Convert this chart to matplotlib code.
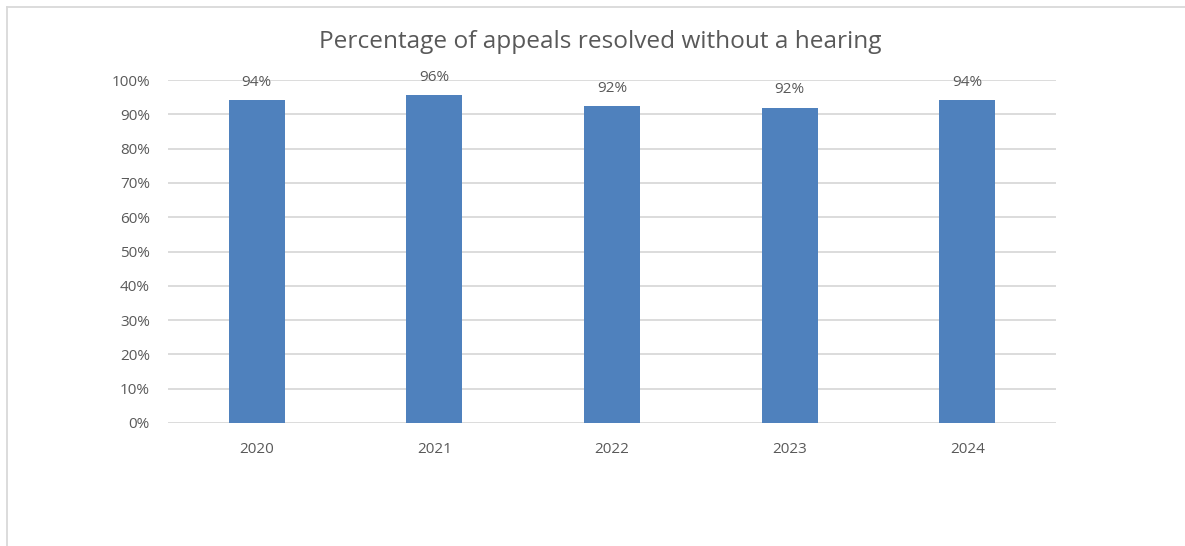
import matplotlib
matplotlib.use("Agg")
from matplotlib import pyplot as plt
from matplotlib.lines import Line2D
import numpy as np

years = ["2020", "2021", "2022", "2023", "2024"]
resolved = [0.942, 0.956, 0.923, 0.919, 0.942]
yticks = [0.0, 0.1, 0.2, 0.3, 0.4, 0.5, 0.6, 0.7, 0.8, 0.9, 1.0]

plt.rcParams['font.family'] = ['Open Sans', 'DejaVu Sans']
text_col = '#595959'

W, H = 1185, 546
fig = plt.figure(figsize=(W / 100, H / 100), dpi=100)
ax = fig.add_axes([168 / W, 1 - 423 / H, (1056 - 168) / W, (423 - 80) / H])

x = np.arange(len(years))
ax.bar(x, resolved, width=0.315, color='#4f81bd', zorder=3)
for xi, v in zip(x, resolved):
    ax.text(xi, v + 0.03, f"{round(v * 100)}%", ha='center', va='bottom',
            fontsize=11, color=text_col, zorder=4)

ax.set_xlim(-0.5, len(years) - 0.5)
ax.set_ylim(0, 1.0)
ax.set_yticks(yticks)
ax.set_yticklabels([f"{int(round(t * 100))}%" for t in yticks])
ax.set_xticks(x)
ax.set_xticklabels(years)
ax.tick_params(length=0, labelsize=11, labelcolor=text_col)
ax.tick_params(axis='y', pad=13)
ax.tick_params(axis='x', pad=14)
ax.grid(axis='y', color='#d9d9d9', linewidth=1.3, zorder=0)
for s in ax.spines.values():
    s.set_visible(False)

fig.text(600 / W, 1 - 42 / H, "Percentage of appeals resolved without a hearing",
         ha='center', va='center', fontsize=17.6, color=text_col)

# chart frame (left and top edges)
fig.add_artist(Line2D([7 / W, 7 / W], [0, 1 - 7 / H], transform=fig.transFigure,
                      color='#d9d9d9', linewidth=1.3))
fig.add_artist(Line2D([7 / W, 1], [1 - 7 / H, 1 - 7 / H], transform=fig.transFigure,
                      color='#d9d9d9', linewidth=1.3))

fig.savefig("out.png", dpi=100)
